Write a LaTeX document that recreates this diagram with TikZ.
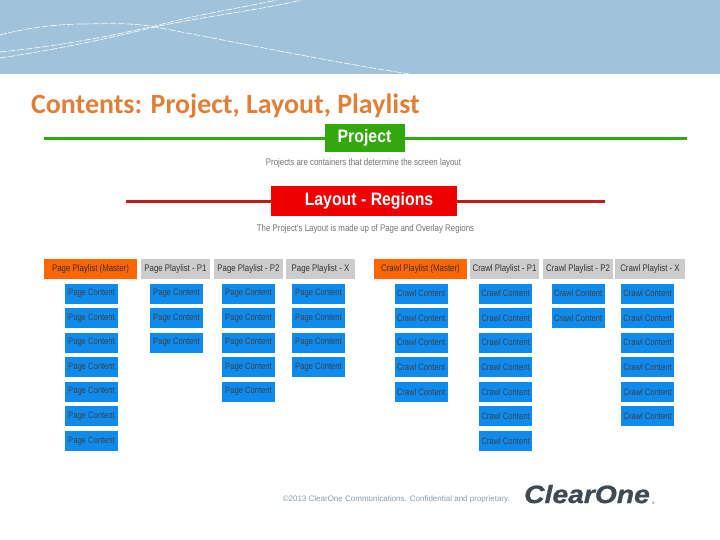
\documentclass[tikz,border=0pt]{standalone}
\usepackage{fontspec}
\setmainfont{Liberation Sans}
\newfontfamily\titlefont{Carlito}
\newfontfamily\narrowfont[FakeStretch=0.82]{Liberation Sans}
\newfontfamily\headfont[FakeStretch=0.88]{Liberation Sans}
\newfontfamily\logofont[FakeStretch=1.13,FakeBold=1]{Liberation Sans}
\usetikzlibrary{positioning, calc}

\definecolor{banner}{HTML}{A0C2DA}
\definecolor{titleorange}{HTML}{E07F38}
\definecolor{projectgreen}{HTML}{33A80C}
\definecolor{layoutred}{HTML}{EE0000}
\definecolor{linered}{HTML}{C41A1A}
\definecolor{masterorange}{HTML}{FF6600}
\definecolor{playgrey}{HTML}{CCCCCC}
\definecolor{contentblue}{HTML}{0F8BEE}
\definecolor{footgrey}{HTML}{8C9AA6}
\definecolor{logogrey}{HTML}{3F4A54}

\tikzset{
  master/.style={fill=masterorange, minimum width=93pt, minimum height=20pt, inner sep=0pt, font=\narrowfont\fontsize{9.6}{10}\selectfont, text=black!80},
  playlist/.style={fill=playgrey, minimum width=69.5pt, minimum height=20pt, inner sep=0pt, font=\narrowfont\fontsize{9.6}{10}\selectfont, text=black!80},
  content/.style={fill=contentblue, minimum width=53pt, minimum height=20pt, inner sep=0pt, font=\narrowfont\fontsize{9.3}{10}\selectfont, text=black!75},
  caption/.style={font=\narrowfont\fontsize{9.6}{10}\selectfont, text=black!55, inner sep=0pt},
  heading/.style={inner sep=0pt, text=white, font=\headfont\bfseries\fontsize{18}{18}\selectfont},
  trail/.style={white!85!banner, line width=0.7pt, dash pattern=on 7pt off 1.5pt}
}

\begin{document}
\begin{tikzpicture}[x=1pt, y=-1pt]
        \useasboundingbox (0, 0) rectangle (720, 540);
        \fill [banner] (0, 0) rectangle (720, 74);
        \draw [trail] (0, 35) .. controls (30, 27) and (60, 24) .. (85, 24) .. controls (120, 23) and (140, 24) .. (155, 27) .. controls (220, 39) and (330, 62) .. (410, 74);
        \draw [trail] (0, 52) .. controls (60, 46) and (110, 36) .. (155, 26) .. controls (195, 15) and (240, 8) .. (277, 0);
        \draw [trail] (0, 58) .. controls (60, 49) and (110, 38) .. (155, 27) .. controls (200, 17) and (260, 10) .. (302, 0);

        \node [anchor=base west, inner sep=0pt, font=\titlefont\bfseries\fontsize{27.9}{28}\selectfont, text=titleorange] (title) at (31, 114) {Contents: Project, Layout, Playlist};

        \coordinate (projectL) at (44, 138.5);
        \coordinate (projectR) at (687, 138.5);
        \draw [projectgreen, line width=3pt] (projectL) -- (projectR);
        \node [heading, fill=projectgreen, minimum width=80pt, minimum height=28pt] (project) at (364.5, 138) {\raisebox{2pt}{Project}};
        \node [caption] (projectcap) at (363.5, 163) {Projects are containers that determine the screen layout};

        \coordinate (layoutL) at (126, 201.5);
        \coordinate (layoutR) at (605, 201.5);
        \draw [linered, line width=3pt] (layoutL) -- (layoutR);
        \node [heading, fill=layoutred, minimum width=186pt, minimum height=30pt] (layout) at (364, 201) {\hspace{10pt}\raisebox{1pt}{Layout - Regions}};
        \node [caption] (layoutcap) at (365.5, 229) {The Project's Layout is made up of Page and Overlay Regions};

        \node [master] (pagemaster) at (90.5, 269) {Page Playlist (Master)};
        \node [playlist] (pageone) at (175.5, 269) {Page Playlist - P1};
        \node [playlist] (pagetwo) at (248.5, 269) {Page Playlist - P2};
        \node [playlist] (pagex) at (320.5, 269) {Page Playlist - X};
        \node [master] (crawlmaster) at (420.5, 269) {Crawl Playlist (Master)};
        \node [playlist] (crawlone) at (504.5, 269) {Crawl Playlist - P1};
        \node [playlist] (crawltwo) at (578, 269) {Crawl Playlist - P2};
        \node [playlist] (crawlx) at (650, 269) {Crawl Playlist - X};

        % column x / how many rows / name / text
        \foreach \cx/\cn/\cname/\ctext in {91.5/7/pm/Page, 176.5/3/pa/Page, 248.5/5/pb/Page, 318.5/4/px/Page,
                                           421/5/cm/Crawl, 505.5/7/ca/Crawl, 578/2/cb/Crawl, 647.5/6/cx/Crawl} {%
          \foreach \n in {1,...,\cn} {%
            \pgfmathparse{293.5 + 24.55 * (\n - 1)}\edef\y{\pgfmathresult}
            \node [content] (\cname\n) at (\cx, \y) {\ctext\ Content};
          }
        }

        \node [anchor=base east, inner sep=0pt, font=\fontsize{8}{8}\selectfont, text=footgrey] (foot) at (510, 501) {\textcopyright 2013 ClearOne Communications. Confidential and proprietary.};
        \node [anchor=base west, inner sep=0pt, font=\logofont\bfseries\itshape\fontsize{25}{25}\selectfont, text=logogrey] (logo) at (524, 503) {ClearOne};
        \node [anchor=base west, inner sep=0pt, font=\fontsize{3.5}{4}\selectfont, text=logogrey] (logomark) at (652, 504) {®};
\end{tikzpicture}
\end{document}
